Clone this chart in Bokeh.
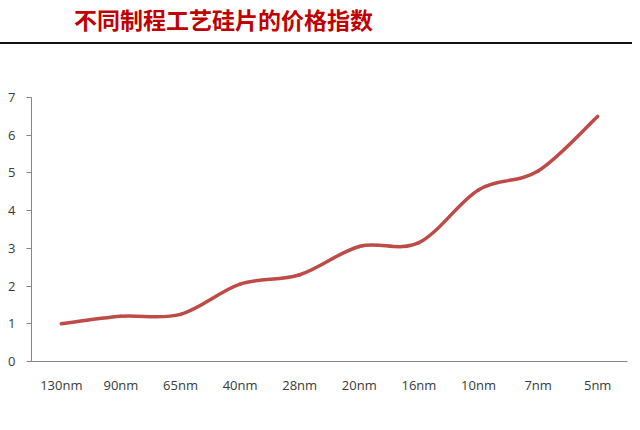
import numpy as np
from bokeh.plotting import figure
from bokeh.layouts import column
from bokeh.models import FixedTicker, Range1d, Div
from bokeh.embed import file_html
from bokeh.resources import INLINE

# ---- data ----
title_text = "不同制程工艺硅片的价格指数"
nodes = ["130nm", "90nm", "65nm", "40nm", "28nm", "20nm", "16nm", "10nm", "7nm", "5nm"]
price_index = [1.0, 1.2, 1.25, 2.05, 2.3, 3.05, 3.15, 4.55, 5.05, 6.5]
y_ticks = [0, 1, 2, 3, 4, 5, 6, 7]

W = 632
AXIS_GRAY = "#868686"
LABEL_COLOR = "#3a3a3a"
LINE_RED = "#BE4B48"
TITLE_RED = "#C00000"

# ---- header (title + rule) ----
header_html = (
    '<div style="position:relative;width:%dpx;height:48px;margin:0;padding:0;">'
    '<div style="position:absolute;left:74px;top:8px;font-family:\'Noto Sans CJK SC\';'
    'font-weight:bold;font-size:23px;line-height:23px;color:%s;white-space:nowrap;">%s</div>'
    '<div style="position:absolute;left:0;top:42px;width:%dpx;height:2px;background:#111111;"></div>'
    '</div>' % (W, TITLE_RED, title_text, W)
)
header = Div(text=header_html, width=W, height=48, margin=(0, 0, 0, 0))

# ---- chart ----
n = len(nodes)
xs = np.arange(n, dtype=float)
ys = np.array(price_index, dtype=float)

p = figure(width=W, height=374, x_range=Range1d(-0.5, n - 0.5), y_range=Range1d(0, 7),
           output_backend="svg", toolbar_location=None,
           min_border_left=31, min_border_right=5, min_border_top=49, min_border_bottom=61)
p.grid.visible = False
p.outline_line_color = None

# smoothed line (Catmull-Rom style Bezier segments, like a spreadsheet "smoothed line")
xp = np.r_[xs[0], xs[:-1]]
yp = np.r_[ys[0], ys[:-1]]
xn = np.r_[xs[1:], xs[-1]]
yn = np.r_[ys[1:], ys[-1]]
x0, y0 = xs[:-1], ys[:-1]
x1, y1 = xs[1:], ys[1:]
cx0 = x0 + (xn[:-1] - xp[:-1]) / 6.0
cy0 = y0 + (yn[:-1] - yp[:-1]) / 6.0
cx1 = x1 - (xn[1:] - xp[1:]) / 6.0
cy1 = y1 - (yn[1:] - yp[1:]) / 6.0
p.bezier(x0=x0, y0=y0, x1=x1, y1=y1, cx0=cx0, cy0=cy0, cx1=cx1, cy1=cy1,
         line_color=LINE_RED, line_width=3.5, line_cap="round")

# x axis
p.xaxis.ticker = FixedTicker(ticks=list(range(n)))
p.xaxis.major_label_overrides = {i: nodes[i] for i in range(n)}
p.xaxis.axis_line_color = AXIS_GRAY
p.xaxis.major_tick_line_color = None
p.xaxis.minor_tick_line_color = None
p.xaxis.major_label_standoff = 8
p.xaxis.major_label_text_font = "Open Sans"
p.xaxis.major_label_text_font_size = "13px"
p.xaxis.major_label_text_color = LABEL_COLOR

# y axis
p.yaxis.ticker = FixedTicker(ticks=y_ticks)
p.yaxis.axis_line_color = AXIS_GRAY
p.yaxis.major_tick_line_color = AXIS_GRAY
p.yaxis.major_tick_out = 5
p.yaxis.major_tick_in = 0
p.yaxis.minor_tick_line_color = None
p.yaxis.major_label_standoff = 11
p.yaxis.major_label_text_font = "Open Sans"
p.yaxis.major_label_text_font_size = "13px"
p.yaxis.major_label_text_color = LABEL_COLOR

layout = column(header, p, spacing=0)
open("out.html", "w").write(file_html(layout, INLINE))
